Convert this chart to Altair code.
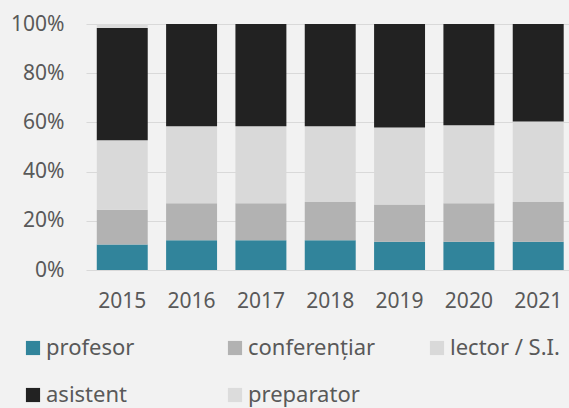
import altair as alt
import pandas as pd

years = ["2015", "2016", "2017", "2018", "2019", "2020", "2021"]
categories = ["profesor", "conferențiar", "lector / S.I.", "asistent", "preparator"]
colors = ["#31849B", "#B2B2B2", "#D9D9D9", "#222222", "#DCDCDC"]

profesor = [10.4, 12.1, 12.1, 12.1, 11.5, 11.5, 11.5]
conferentiar = [14.1, 15.0, 15.0, 15.5, 15.1, 15.6, 16.1]
lector = [28.2, 31.3, 31.3, 30.8, 31.3, 31.7, 32.8]
asistent = [45.7, 41.6, 41.6, 41.6, 42.1, 41.2, 39.6]
preparator = [1.6, 0.0, 0.0, 0.0, 0.0, 0.0, 0.0]

series = [profesor, conferentiar, lector, asistent, preparator]
rows = []
for ci, (cat, vals) in enumerate(zip(categories, series)):
    for y, v in zip(years, vals):
        rows.append({"year": y, "cat": cat, "order": ci, "value": v / 100.0})
df = pd.DataFrame(rows)

FONT = "Noto Sans"
GREY = "#595959"

chart = alt.Chart(df).mark_bar().encode(
    x=alt.X("year:N", sort=years,
            scale=alt.Scale(paddingInner=0.265, paddingOuter=0.116, align=0.67),
            axis=alt.Axis(title=None, labelAngle=0, ticks=False, domain=False,
                          labelPadding=20, labelFontSize=21, labelColor=GREY,
                          labelFont=FONT, grid=False)),
    y=alt.Y("sum(value):Q", stack="zero",
            scale=alt.Scale(domain=[0, 1], nice=False),
            axis=alt.Axis(title=None, format=".0%", values=[0, 0.2, 0.4, 0.6, 0.8, 1.0],
                          ticks=False, domain=False, labelPadding=22,
                          labelFontSize=21, labelColor=GREY, labelFont=FONT,
                          grid=True, gridColor="#D9D9D9", gridWidth=1)),
    color=alt.Color("cat:N", sort=categories,
                    scale=alt.Scale(domain=categories, range=colors),
                    legend=alt.Legend(title=None, orient="none", legendX=-64, legendY=313,
                                      columns=3, gridAlign="all", columnPadding=50,
                                      rowPadding=25, symbolType="square", symbolSize=200,
                                      symbolStrokeWidth=0, labelFontSize=22, labelColor=GREY,
                                      labelFont=FONT, labelLimit=300, padding=0,
                                      labelOffset=2, direction="horizontal")),
    order=alt.Order("order:Q", sort="ascending"),
).properties(
    width=483, height=246,
    padding={"left": 86, "top": 24, "right": 0, "bottom": 138},
    autosize=alt.AutoSizeParams(type="none"),
    background="#F2F2F2",
).configure_view(stroke=None)

chart.save("out.html", embed_options={"renderer": "svg", "actions": False})
